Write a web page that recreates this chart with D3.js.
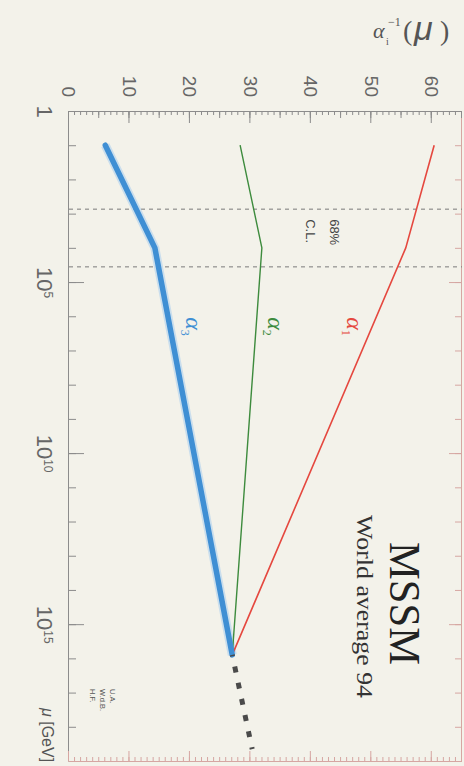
<!DOCTYPE html>
<html>
<head>
<meta charset="utf-8">
<script src="https://cdn.jsdelivr.net/npm/d3@7"></script>
<style>
  html, body { margin: 0; padding: 0; background: #f3f2ea; }
  svg { display: block; }
</style>
</head>
<body>
<svg id="chart" width="464" height="766"></svg>
<script>
// Running of the inverse gauge couplings in the MSSM (world average 1994 inputs)
const scaleGeV   = [1e1, 1e4, 7.9e15];   // start, SUSY threshold, unification point
const invAlpha1  = [60.4, 55.7, 27.0];
const invAlpha2  = [28.3, 31.9, 27.0];
const invAlpha3  = [6.0, 14.2, 27.0];
const aboveGutGeV      = [7.9e15, 4.5e18];
const aboveGutInvAlpha = [27.0, 30.3];
const susyBandGeV = [740, 3.6e4];        // 68% C.L. range of the SUSY scale
const muTickExponents = [0, 5, 10, 15];
const alphaTicks = [0, 10, 20, 30, 40, 50, 60];
const seriesSubscripts = ["1", "2", "3"];
const seriesColors = ["#e5483f", "#3d8b3d", "#3f8fd4"];

const W = 464, H = 766;
const sans = "'Liberation Sans', Arial, sans-serif";
const serif = "'Liberation Serif', 'Times New Roman', serif";
const axisGrey = "#8c8c8c";
const axisPink = "#d6a6a2";

const svg = d3.select("#chart");
svg.append("rect").attr("width", W).attr("height", H).attr("fill", "#f3f2ea");

// The plot is laid out in landscape and turned a quarter turn clockwise onto the page.
const g = svg.append("g").attr("transform", `translate(${W},0) rotate(90)`);

const x = d3.scaleLog().domain([1, 1e19]).range([111, 761]);
const y = d3.scaleLinear().domain([0, 65]).range([395, 2]);

const decades = d3.range(0, 20).map(e => Math.pow(10, e));
const majorMu = muTickExponents.map(e => Math.pow(10, e));
const unitTicks = d3.range(0, 66);
const fiveTicks = d3.range(0, 66, 5);

function styleAxis(sel, color) {
  sel.select(".domain").attr("stroke", color).attr("stroke-width", 1);
  sel.selectAll(".tick line").attr("stroke", color).attr("stroke-width", 1);
}

// --- μ axis (page left) ---
const gxMinor = g.append("g").attr("transform", `translate(0,${y(0)})`)
  .call(d3.axisBottom(x).tickValues(decades).tickSize(-7).tickSizeOuter(0).tickFormat(""));
styleAxis(gxMinor, axisGrey);
const gxMajor = g.append("g").attr("transform", `translate(0,${y(0)})`)
  .call(d3.axisBottom(x).tickValues(majorMu).tickSize(-15).tickSizeOuter(0).tickPadding(16));
styleAxis(gxMajor, axisGrey);
gxMajor.select(".domain").remove();
gxMajor.selectAll(".tick text")
  .attr("font-family", sans).attr("font-size", 22).attr("fill", "#666")
  .each(function (d) {
    const e = Math.round(Math.log10(d));
    const t = d3.select(this).text(null);
    if (e === 0) { t.text("1"); return; }
    t.append("tspan").text("10");
    t.append("tspan").attr("font-size", 12).attr("dy", -7).text(e);
  });

// --- mirrored μ ticks (page right) ---
const gxTop = g.append("g").attr("transform", `translate(0,${y(65)})`)
  .call(d3.axisTop(x).tickValues(decades).tickSize(-7).tickSizeOuter(0).tickFormat(""));
styleAxis(gxTop, axisPink);
const gxTopMajor = g.append("g").attr("transform", `translate(0,${y(65)})`)
  .call(d3.axisTop(x).tickValues(majorMu).tickSize(-13).tickSizeOuter(0).tickFormat(""));
styleAxis(gxTopMajor, axisPink);
gxTopMajor.select(".domain").remove();

// --- α⁻¹ axis (page top) ---
const gy = g.append("g").attr("transform", `translate(${x(1)},0)`)
  .call(d3.axisLeft(y).tickValues(unitTicks).tickSize(-4).tickSizeOuter(0).tickFormat(""));
styleAxis(gy, axisGrey);
const gy5 = g.append("g").attr("transform", `translate(${x(1)},0)`)
  .call(d3.axisLeft(y).tickValues(fiveTicks).tickSize(-7).tickSizeOuter(0).tickFormat(""));
styleAxis(gy5, axisGrey);
gy5.select(".domain").remove();
const gyMajor = g.append("g").attr("transform", `translate(${x(1)},0)`)
  .call(d3.axisLeft(y).tickValues(alphaTicks).tickSize(-12).tickSizeOuter(0).tickPadding(14));
styleAxis(gyMajor, axisGrey);
gyMajor.select(".domain").remove();
gyMajor.selectAll(".tick text")
  .attr("font-family", sans).attr("font-size", 19).attr("fill", "#666");

// --- mirrored α⁻¹ ticks (page bottom) ---
const gyR = g.append("g").attr("transform", `translate(${x(1e19)},0)`)
  .call(d3.axisRight(y).tickValues(unitTicks).tickSize(-4).tickSizeOuter(0).tickFormat(""));
styleAxis(gyR, axisPink);
const gyRMajor = g.append("g").attr("transform", `translate(${x(1e19)},0)`)
  .call(d3.axisRight(y).tickValues(alphaTicks).tickSize(-10).tickSizeOuter(0).tickFormat(""));
styleAxis(gyRMajor, axisPink);
gyRMajor.select(".domain").remove();

// --- SUSY threshold band ---
g.selectAll("line.threshold").data(susyBandGeV).join("line")
  .attr("class", "threshold")
  .attr("x1", d => x(d)).attr("x2", d => x(d))
  .attr("y1", y(0)).attr("y2", y(65))
  .attr("stroke", "#7a7a7a").attr("stroke-width", 1)
  .attr("stroke-dasharray", "4,4");

g.append("text").attr("x", x(susyBandGeV[0]) + 10).attr("y", 134)
  .attr("font-family", sans).attr("font-size", 13).attr("fill", "#444").text("68%");
g.append("text").attr("x", x(susyBandGeV[0]) + 10).attr("y", 158)
  .attr("font-family", sans).attr("font-size", 13).attr("fill", "#444").text("C.L.");

// --- coupling curves ---
const line = d3.line().x(d => x(d[0])).y(d => y(d[1]));
const series = [invAlpha1, invAlpha2, invAlpha3];
const pts = s => scaleGeV.map((m, i) => [m, s[i]]);

// halo under the thick α3 curve
g.append("path").attr("d", line(pts(invAlpha3)))
  .attr("fill", "none").attr("stroke", "#a8cdee").attr("stroke-width", 9)
  .attr("stroke-linejoin", "round").attr("stroke-opacity", 0.55);

const widths = [1.6, 1.4, 5.5];
series.forEach((s, i) => {
  g.append("path").attr("d", line(pts(s)))
    .attr("fill", "none").attr("stroke", seriesColors[i])
    .attr("stroke-width", widths[i]).attr("stroke-linejoin", "round")
    .attr("stroke-linecap", i === 2 ? "round" : "butt");
});

// unified coupling above the GUT scale
g.append("path").attr("d", line(aboveGutGeV.map((m, i) => [m, aboveGutInvAlpha[i]])))
  .attr("fill", "none").attr("stroke", "#4a4a4a").attr("stroke-width", 5)
  .attr("stroke-dasharray", "6,10.5").attr("stroke-dashoffset", 4.5);

// curve labels, set beside each curve at μ = 10^6 GeV
const labelMu = 1e6;
const labelOffsets = [30, -11, -18];
series.forEach((s, i) => {
  const at = d3.scaleLog().domain(scaleGeV).range(s)(labelMu);
  const t = g.append("text").attr("x", x(labelMu) + 1).attr("y", y(at) + labelOffsets[i])
    .attr("font-family", serif).attr("font-size", 24).attr("fill", seriesColors[i]);
  t.append("tspan").attr("font-style", "italic").text("α");
  t.append("tspan").attr("font-size", 12).attr("dy", 5).text(seriesSubscripts[i]);
});

// title block
g.append("text").attr("x", 542).attr("y", 74)
  .attr("font-family", serif).attr("font-size", 44).attr("fill", "#222")
  .attr("textLength", 123).attr("lengthAdjust", "spacingAndGlyphs").text("MSSM");
g.append("text").attr("x", 515).attr("y", 107)
  .attr("font-family", serif).attr("font-size", 23).attr("fill", "#333")
  .attr("textLength", 183).attr("lengthAdjust", "spacingAndGlyphs").text("World average 94");

// authors' initials
["U.A.", "W.d.B.", "H.F."].forEach((s, i) => {
  g.append("text").attr("x", 689).attr("y", 354 + i * 10)
    .attr("font-family", sans).attr("font-size", 7.5).attr("fill", "#555").text(s);
});

// μ axis title
const mt = g.append("text").attr("x", 708).attr("y", 422)
  .attr("font-family", sans).attr("font-size", 16).attr("fill", "#555");
mt.append("tspan").attr("font-style", "italic").text("μ");
mt.append("tspan").text(" [GeV]");

// α⁻¹ axis title, upright on the page
const at = svg.append("g").attr("font-family", serif).attr("fill", "#555");
at.append("text").attr("x", 373).attr("y", 38).attr("font-size", 22)
  .attr("font-style", "italic").text("α");
at.append("text").attr("x", 386).attr("y", 45).attr("font-size", 10).text("i");
at.append("text").attr("x", 388).attr("y", 26).attr("font-size", 12).text("−1");
at.append("text").attr("x", 403).attr("y", 40).attr("font-size", 28).text("(");
at.append("text").attr("x", 414).attr("y", 40).attr("font-size", 34)
  .attr("font-family", sans).attr("font-style", "italic").text("μ");
at.append("text").attr("x", 440).attr("y", 40).attr("font-size", 28).text(")");
</script>
</body>
</html>
